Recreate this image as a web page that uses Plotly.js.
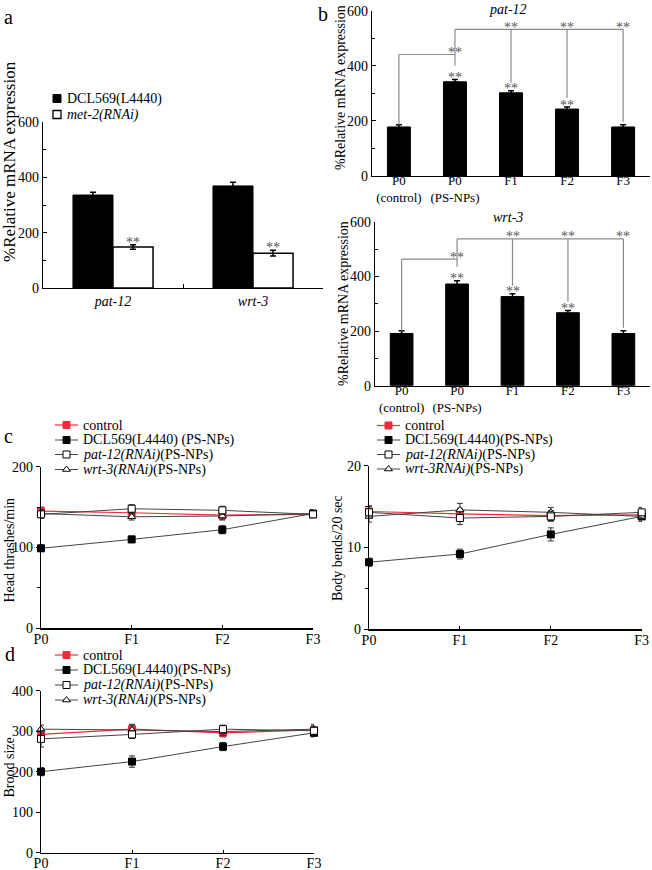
<!DOCTYPE html>
<html><head><meta charset="utf-8">
<script src="https://cdn.plot.ly/plotly-3.0.1.min.js"></script>
<style>html,body{margin:0;padding:0;background:#fff}#chart{width:652px;height:870px}</style>
</head><body><div id="chart"></div>
<script>
// ---------------- data ----------------
const genesA = ["pat-12", "wrt-3"];
const aDCL = [336, 369];
const aDCLErr = [10, 13];
const aMet2 = [148, 126];
const aMet2Err = [8, 10];

const bCats = ["P0<br>(control)", "P0<br>(PS-NPs)", "F1", "F2", "F3"];
const bPat12 = [178, 342, 302, 243, 178];
const bPat12Err = [8, 8, 7, 7, 8];
const bWrt3 = [191, 372, 326, 267, 191];
const bWrt3Err = [10, 12, 10, 8, 10];
const bStarred = [false, true, true, true, false];

const gens = ["P0", "F1", "F2", "F3"];
const headCtrl = [145, 143, 140, 141];
const headCtrlErr = [5, 5, 5, 4];
const headDCL = [99, 110, 122, 142];
const headDCLErr = [4, 4, 5, 5];
const headPat = [141, 148, 146, 141];
const headPatErr = [5, 5, 5, 4];
const headWrt = [142, 138, 139, 142];
const headWrtErr = [5, 4, 5, 4];

const bendCtrl = [14.4, 14.1, 13.9, 14.0];
const bendCtrlErr = [0.7, 0.7, 0.6, 0.6];
const bendDCL = [8.2, 9.2, 11.6, 13.8];
const bendDCLErr = [0.5, 0.6, 0.8, 0.6];
const bendPat = [14.3, 13.6, 13.8, 14.3];
const bendPatErr = [0.7, 0.8, 0.6, 0.6];
const bendWrt = [13.8, 14.6, 14.3, 13.8];
const bendWrtErr = [0.7, 0.8, 0.6, 0.6];

const broodCtrl = [292, 305, 296, 303];
const broodCtrlErr = [12, 12, 10, 10];
const broodDCL = [200, 225, 262, 296];
const broodDCLErr = [10, 14, 10, 10];
const broodPat = [281, 292, 305, 301];
const broodPatErr = [20, 10, 10, 10];
const broodWrt = [305, 303, 299, 305];
const broodWrtErr = [10, 12, 10, 12];

const namesC1 = ["control", "DCL569(L4440) (PS-NPs)", "<i>pat-12(RNAi)</i>(PS-NPs)", "<i>wrt-3(RNAi)</i>(PS-NPs)"];
const namesC2 = ["control", "DCL569(L4440)(PS-NPs)", "<i>pat-12(RNAi)</i>(PS-NPs)", "<i>wrt-3RNAi)</i>(PS-NPs)"];
const namesD  = ["control", "DCL569(L4440)(PS-NPs)", "<i>pat-12(RNAi)</i>(PS-NPs)", "<i>wrt-3(RNAi)</i>(PS-NPs)"];
const namesA  = ["DCL569(L4440)", "<i>met-2(RNAi)</i>"];

// ---------------- helpers ----------------
const W = 652, H = 870;
const FONT = "Liberation Serif, 'Times New Roman', serif";
const px = x => x / W, py = y => 1 - y / H;
const fx = (a, b) => [a / W, b / W];
const fy = (t, b) => [1 - b / H, 1 - t / H];
const RED = '#ee2c38';

const traces = [];
const annotations = [];
const shapes = [];

// ---------------- panel a ----------------
const aw = 0.286;
traces.push({type: 'bar', x: genesA.map(g => `<i>${g}</i>`), y: aDCL, offset: -aw, width: aw,
  error_y: {type: 'data', array: aDCLErr, color: '#000', thickness: 1.5, width: 3},
  marker: {color: '#000', line: {color: '#000', width: 1}}, xaxis: 'x', yaxis: 'y', name: namesA[0], showlegend: false});
traces.push({type: 'bar', x: genesA.map(g => `<i>${g}</i>`), y: aMet2, offset: 0, width: aw,
  error_y: {type: 'data', array: aMet2Err, color: '#000', thickness: 1.5, width: 3},
  marker: {color: '#fff', line: {color: '#000', width: 1.5}}, xaxis: 'x', yaxis: 'y', name: namesA[1], showlegend: false});
genesA.forEach((g, i) => {
  annotations.push({xref: 'x', yref: 'y', x: i + aw / 2, y: aMet2[i] + aMet2Err[i] + 20, yshift: -3,
    text: '**', showarrow: false, font: {family: FONT, size: 14, color: '#555'}, xanchor: 'center', yanchor: 'middle'});
});

// ---------------- panel b ----------------
function barPanel(xa, ya, vals, errs, U, L, unitsPerPx) {
  traces.push({type: 'bar', x: bCats, y: vals, width: 0.41,
    error_y: {type: 'data', array: errs, color: '#000', thickness: 1.5, width: 3},
    marker: {color: '#000', line: {color: '#000', width: 1}}, xaxis: xa, yaxis: ya, showlegend: false});
  const gapPx = [0, 14, 8, 9, 3];
  const tips = vals.map((v, i) => v + errs[i] + gapPx[i] * unitsPerPx);
  const ln = {color: '#8a8a8a', width: 1.2};
  const sh = (x0, y0, x1, y1) => shapes.push({type: 'line', xref: xa, yref: ya, x0, y0, x1, y1, line: ln});
  // lower bracket: control vs P0 PS-NPs
  sh(0, L, 1, L);
  sh(0, L, 0, tips[0]);
  // upper bracket: P0 PS-NPs vs F1..F3
  sh(1, U, 4, U);
  for (let i = 1; i < 5; i++) sh(i, U, i, tips[i]);
  const star = (x, y) => annotations.push({xref: xa, yref: ya, x, y, yshift: -3, text: '**', showarrow: false,
    font: {family: FONT, size: 14, color: '#555'}, xanchor: 'center', yanchor: 'middle'});
  star(1, L + 17);
  for (let i = 2; i < 5; i++) star(i, U + 18);
  vals.forEach((v, i) => { if (bStarred[i]) star(i, v + errs[i] + 18); });
}
barPanel('x2', 'y2', bPat12, bPat12Err, 532, 441, 600 / 165.3);
barPanel('x3', 'y3', bWrt3, bWrt3Err, 537, 463, 600 / 164);

// ---------------- line panels ----------------
const styles = [
  {line: {color: RED, width: 1.2}, marker: {symbol: 'square', size: 7, color: RED, line: {color: RED, width: 1}}},
  {line: {color: '#444', width: 1}, marker: {symbol: 'square', size: 7, color: '#000', line: {color: '#000', width: 1}}},
  {line: {color: '#444', width: 1}, marker: {symbol: 'square', size: 7, color: '#fff', line: {color: '#000', width: 1}}},
  {line: {color: '#444', width: 1}, marker: {symbol: 'triangle-up', size: 7, color: '#fff', line: {color: '#000', width: 1}}}
];
function linePanel(xa, ya, series, errs, names) {
  [0, 1, 3, 2].forEach(k => {
    traces.push({type: 'scatter', mode: 'lines+markers', x: gens, y: series[k], name: names[k],
      error_y: {type: 'data', array: errs[k], color: '#333', thickness: 1, width: 3},
      line: styles[k].line, marker: styles[k].marker, cliponaxis: false, xaxis: xa, yaxis: ya, showlegend: false});
  });
}
linePanel('x4', 'y4', [headCtrl, headDCL, headPat, headWrt], [headCtrlErr, headDCLErr, headPatErr, headWrtErr], namesC1);
linePanel('x5', 'y5', [bendCtrl, bendDCL, bendPat, bendWrt], [bendCtrlErr, bendDCLErr, bendPatErr, bendWrtErr], namesC2);
linePanel('x6', 'y6', [broodCtrl, broodDCL, broodPat, broodWrt], [broodCtrlErr, broodDCLErr, broodPatErr, broodWrtErr], namesD);

// ---------------- manual legends (overlay pixel axis x7/y7) ----------------
function lineLegend(x0, rows, names) {
  names.forEach((n, k) => {
    const y = rows[k];
    traces.push({type: 'scatter', mode: 'lines', x: [x0, x0 + 23], y: [y, y], line: styles[k].line,
      xaxis: 'x7', yaxis: 'y7', showlegend: false, hoverinfo: 'skip'});
    traces.push({type: 'scatter', mode: 'markers', x: [x0 + 11.5], y: [y], marker: styles[k].marker,
      xaxis: 'x7', yaxis: 'y7', showlegend: false, hoverinfo: 'skip', cliponaxis: false});
    annotations.push({xref: 'paper', yref: 'paper', x: px(x0 + 26), y: py(y), text: n, showarrow: false,
      xanchor: 'left', yanchor: 'middle', font: {family: FONT, size: 14, color: '#000'}});
  });
}
lineLegend(55, [425, 440, 454.5, 469.5], namesC1);
lineLegend(377, [425.5, 440, 454.5, 469], namesC2);
lineLegend(55, [655, 670, 685, 700], namesD);
// panel a legend
const aLegStyles = [
  {symbol: 'square', size: 8, color: '#000', line: {color: '#000', width: 1}},
  {symbol: 'square', size: 8, color: '#fff', line: {color: '#000', width: 1.3}}
];
[98.5, 114.5].forEach((y, k) => {
  traces.push({type: 'scatter', mode: 'markers', x: [57], y: [y], marker: aLegStyles[k],
    xaxis: 'x7', yaxis: 'y7', showlegend: false, hoverinfo: 'skip', cliponaxis: false});
  annotations.push({xref: 'paper', yref: 'paper', x: px(65), y: py(y), text: namesA[k], showarrow: false,
    xanchor: 'left', yanchor: 'middle', font: {family: FONT, size: 14, color: '#000'}});
});

// ---------------- text annotations ----------------
const txt = (x, y, text, size, extra) => annotations.push(Object.assign({xref: 'paper', yref: 'paper',
  x: px(x), y: py(y), text, showarrow: false, xanchor: 'center', yanchor: 'middle',
  font: {family: FONT, size, color: '#000'}}, extra || {}));
// y-axis titles
txt(9, 162, '%Relative mRNA expression', 17, {textangle: -90});
txt(340, 88, '%Relative mRNA expression', 14, {textangle: -90});
txt(343, 304, '%Relative mRNA expression', 14, {textangle: -90});
txt(8.5, 550, 'Head thrashes/min', 14, {textangle: -90});
txt(337, 548, 'Body bends/20 sec', 14, {textangle: -90});
txt(8.5, 768, 'Brood size', 14, {textangle: -90});
// subplot titles
txt(508, 9, '<i>pat-12</i>', 14);
txt(508, 218, '<i>wrt-3</i>', 14);
// panel letters
txt(8, 17, 'a', 20);
txt(323, 14, 'b', 20);
txt(8, 436, 'c', 20);
txt(10, 654, 'd', 20);

// ---------------- axes ----------------
const tf = {family: FONT, size: 14, color: '#000'};
const tfB = {family: FONT, size: 13, color: '#000'};
const baseAx = {showline: true, linecolor: '#000', linewidth: 1.3, showgrid: false, zeroline: false,
  tickfont: tf, tickcolor: '#000', fixedrange: true};
const yAx = (dom, anchor, range, dtick, minor, ticks) => Object.assign({}, baseAx, {domain: dom, anchor, range,
  dtick, tick0: 0, ticks, ticklen: 4, minor: minor ? {dtick: minor, ticks, ticklen: 3, tickcolor: '#000'} : undefined});

const layout = {
  width: W, height: H, margin: {l: 0, r: 0, t: 0, b: 0},
  paper_bgcolor: '#fff', plot_bgcolor: 'rgba(0,0,0,0)', showlegend: false, barmode: 'group',
  font: {family: FONT, size: 14, color: '#000'},
  xaxis: Object.assign({}, baseAx, {domain: fx(43, 323), anchor: 'y', type: 'category', range: [-0.5, 1.5],
    tickson: 'boundaries', ticks: 'inside', ticklen: 4}),
  yaxis: yAx(fy(122, 288), 'x', [0, 600], 200, 100, 'inside'),
  xaxis2: Object.assign({}, baseAx, {domain: fx(372, 650), anchor: 'y2', type: 'category', range: [-0.48, 4.48],
    ticks: '', tickfont: tfB, ticklabelstandoff: -8}),
  yaxis2: yAx(fy(10.7, 176), 'x2', [0, 600], 200, 100, 'inside'),
  xaxis3: Object.assign({}, baseAx, {domain: fx(375, 650), anchor: 'y3', type: 'category', range: [-0.48, 4.48],
    ticks: '', tickfont: tfB, ticklabelstandoff: -8}),
  yaxis3: yAx(fy(221.7, 385.7), 'x3', [0, 600], 200, 100, 'inside'),
  xaxis4: Object.assign({}, baseAx, {domain: fx(41, 313), anchor: 'y4', type: 'category', range: [0, 3], ticks: 'inside', ticklen: 3, ticklabelstandoff: -2}),
  yaxis4: yAx(fy(466.7, 628.3), 'x4', [0, 200], 100, 50, 'outside'),
  xaxis5: Object.assign({}, baseAx, {domain: fx(369, 641.7), anchor: 'y5', type: 'category', range: [0, 3], ticks: 'inside', ticklen: 3, ticklabelstandoff: -2}),
  yaxis5: yAx(fy(465.7, 629.3), 'x5', [0, 20], 10, 5, 'outside'),
  xaxis6: Object.assign({}, baseAx, {domain: fx(41, 314), anchor: 'y6', type: 'category', range: [0, 3], ticks: 'inside', ticklen: 3, ticklabelstandoff: -3}),
  yaxis6: yAx(fy(690.7, 852.7), 'x6', [0, 400], 100, null, 'outside'),
  xaxis7: {domain: [0, 1], range: [0, W], visible: false, fixedrange: true, anchor: 'y7'},
  yaxis7: {domain: [0, 1], range: [H, 0], visible: false, fixedrange: true, anchor: 'x7'},
  annotations, shapes
};

Plotly.newPlot('chart', traces, layout, {displayModeBar: false, staticPlot: true});
</script>
</body></html>
